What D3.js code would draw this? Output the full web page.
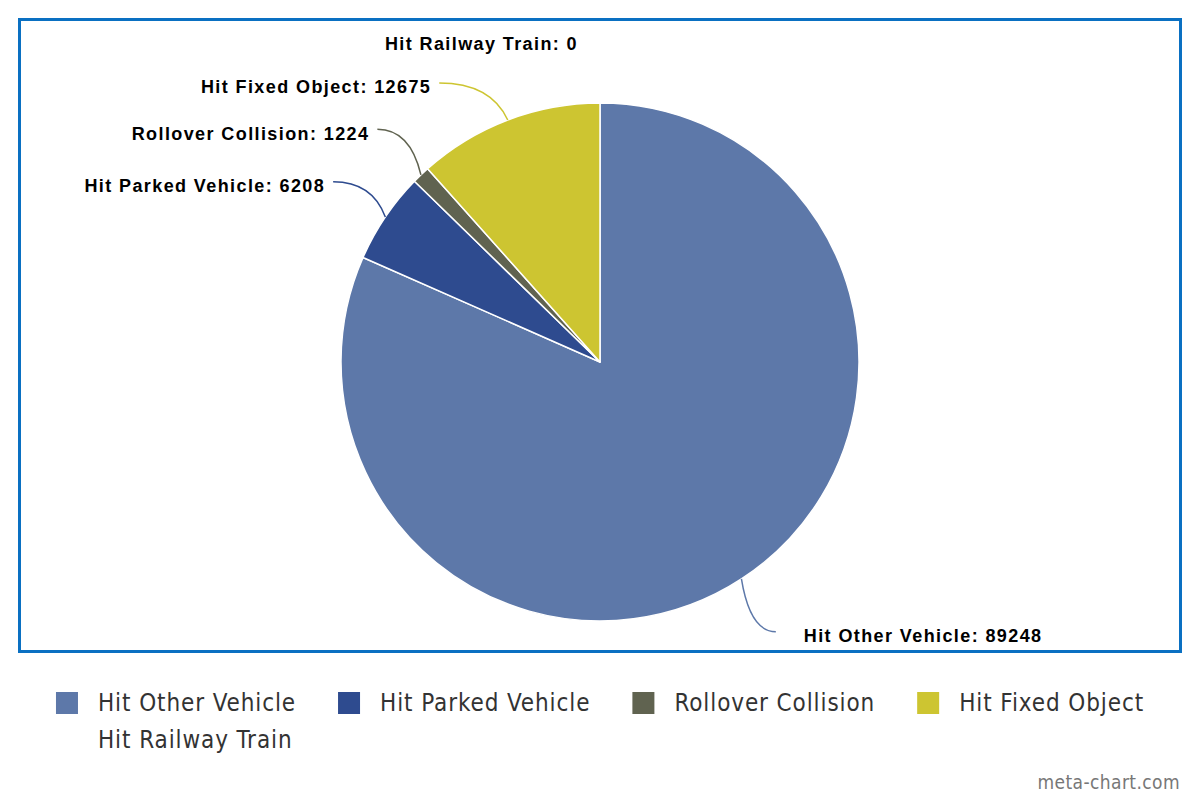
<!DOCTYPE html>
<html>
<head>
<meta charset="utf-8">
<script src="https://cdn.jsdelivr.net/npm/d3@7/dist/d3.min.js"></script>
<style>
  html, body { margin: 0; padding: 0; background: #fff; }
  svg { display: block; }
</style>
</head>
<body>
<svg id="chart" width="1200" height="800"></svg>
<script>
const categories = ["Hit Other Vehicle", "Hit Parked Vehicle", "Rollover Collision", "Hit Fixed Object", "Hit Railway Train"];
const values = [89248, 6208, 1224, 12675, 0];
const colors = ["#5d78a9", "#2e4b8f", "#606350", "#cdc531", "#ffffff"];

const data = categories.map((c, i) => ({ name: c, value: values[i], color: colors[i] }));

const svg = d3.select("#chart");
const W = 1200;

// frame
svg.append("rect")
  .attr("x", 19.5).attr("y", 19.5)
  .attr("width", 1161).attr("height", 632)
  .attr("fill", "#fff")
  .attr("stroke", "#0a70c2")
  .attr("stroke-width", 3);

const cx = 600, cy = 362, R = 259, labelR = 322;

const pie = d3.pie().sort(null).value(d => d.value);
const arcs = pie(data);
const arc = d3.arc().innerRadius(0).outerRadius(R);

const g = svg.append("g").attr("transform", `translate(${cx},${cy})`);

g.selectAll("path.slice")
  .data(arcs.filter(a => a.data.value > 0))
  .join("path")
  .attr("class", "slice")
  .attr("d", arc)
  .attr("fill", d => d.data.color)
  .attr("stroke", "#fff")
  .attr("stroke-width", 1.5)
  .attr("stroke-linejoin", "round");

// label layout
const labels = arcs.map(a => {
  const mid = (a.startAngle + a.endAngle) / 2;
  return {
    a, mid,
    left: mid >= Math.PI,
    ex: R * Math.sin(mid), ey: -R * Math.cos(mid),
    ny: -labelR * Math.cos(mid)
  };
});
const minGap = 43;
["left", "right"].forEach(side => {
  const group = labels.filter(l => (side === "left") === l.left).sort((p, q) => p.ny - q.ny);
  let prev = -Infinity;
  group.forEach(l => {
    l.ly = Math.max(l.ny, prev + minGap);
    prev = l.ly;
    const dy = Math.max(-labelR, Math.min(labelR, l.ly));
    const dx = Math.sqrt(labelR * labelR - dy * dy);
    l.lx = l.left ? -dx : dx;
  });
});

// connectors
g.selectAll("path.conn")
  .data(labels.filter(l => l.a.data.value > 0))
  .join("path")
  .attr("class", "conn")
  .attr("fill", "none")
  .attr("stroke", d => d.a.data.color)
  .attr("stroke-width", 1.5)
  .attr("d", d => {
    const qx = d.ex - (d.ex - d.lx) * 0.25;
    return `M${d.lx},${d.ly} Q${qx},${d.ly} ${d.ex},${d.ey}`;
  });

g.selectAll("text.lbl")
  .data(labels)
  .join("text")
  .attr("class", "lbl")
  .attr("x", d => d.a.data.value > 0 ? (d.left ? d.lx - 8 : d.lx + 28) : d.lx - 22)
  .attr("y", d => d.ly + 4)
  .attr("dy", "0.35em")
  .attr("text-anchor", d => d.left ? "end" : "start")
  .attr("font-family", "'Liberation Sans', Arial, sans-serif")
  .attr("font-weight", "bold")
  .attr("font-size", 18)
  .attr("letter-spacing", 1.4)
  .attr("fill", "#000")
  .text(d => `${d.a.data.name}: ${d.a.data.value}`);

// legend
const legend = svg.append("g");
const items = legend.selectAll("g.item").data(data).join("g").attr("class", "item");
items.append("rect")
  .attr("width", 22).attr("height", 22)
  .attr("y", -11)
  .attr("fill", d => d.color)
  .attr("display", d => d.value > 0 ? null : "none");
items.append("text")
  .attr("x", 42)
  .attr("dy", "0.35em")
  .attr("font-family", "'DejaVu Sans Condensed', 'DejaVu Sans', sans-serif")
  .attr("font-stretch", "condensed")
  .attr("font-size", 24)
  .attr("letter-spacing", 0.9)
  .attr("fill", "#333")
  .text(d => d.name);

const gap = 42, maxW = 1120;
const widths = [];
items.each(function() { widths.push(42 + d3.select(this).select("text").node().getComputedTextLength()); });
// rows
const rows = [[]];
let rowW = 0;
widths.forEach((w, i) => {
  const add = (rows[rows.length - 1].length ? gap : 0) + w;
  if (rowW + add > maxW && rows[rows.length - 1].length) { rows.push([i]); rowW = w; }
  else { rows[rows.length - 1].push(i); rowW += add; }
});
const firstW = rows[0].reduce((s, i, k) => s + widths[i] + (k ? gap : 0), 0);
const startX = (W - firstW) / 2;
rows.forEach((row, r) => {
  let x = startX;
  row.forEach(i => {
    d3.select(items.nodes()[i]).attr("transform", `translate(${x},${703 + r * 37})`);
    x += widths[i] + gap;
  });
});

// credit
svg.append("text")
  .attr("x", 1180).attr("y", 789)
  .attr("text-anchor", "end")
  .attr("font-family", "'DejaVu Sans Condensed', 'DejaVu Sans', sans-serif")
  .attr("font-stretch", "condensed")
  .attr("font-size", 19)
  .attr("letter-spacing", 0.4)
  .attr("fill", "#777")
  .text("meta-chart.com");
</script>
</body>
</html>
